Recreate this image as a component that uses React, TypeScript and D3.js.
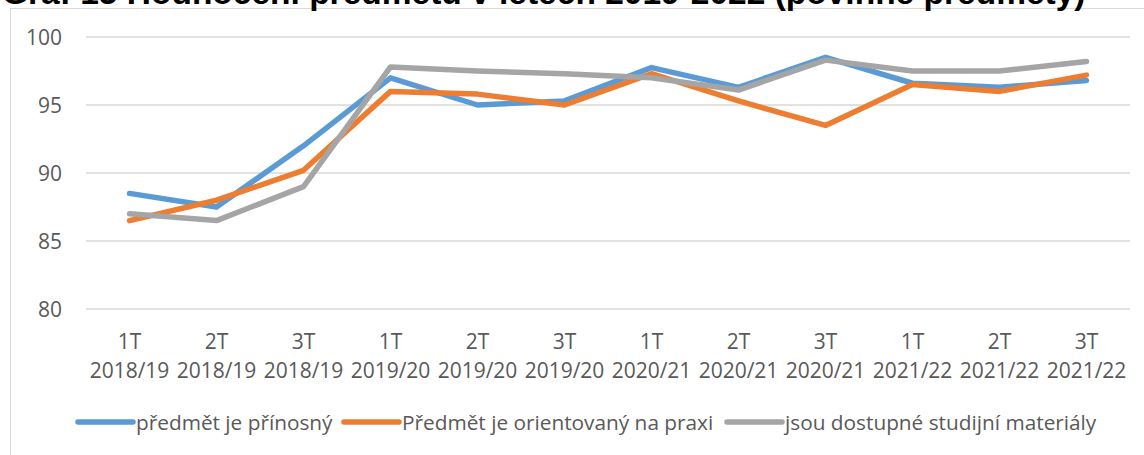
import React from "react";
import * as d3 from "d3";

const terms = ["1T", "2T", "3T", "1T", "2T", "3T", "1T", "2T", "3T", "1T", "2T", "3T"];
const years = ["2018/19", "2018/19", "2018/19", "2019/20", "2019/20", "2019/20", "2020/21", "2020/21", "2020/21", "2021/22", "2021/22", "2021/22"];
const seriesNames = ["předmět je přínosný", "Předmět je orientovaný na praxi", "jsou dostupné studijní materiály"];
const prinosny = [88.5, 87.5, 92.0, 97.0, 95.0, 95.3, 97.75, 96.3, 98.5, 96.6, 96.3, 96.8];
const praxe = [86.5, 88.0, 90.2, 96.0, 95.8, 95.0, 97.3, 95.3, 93.5, 96.5, 96.0, 97.2];
const materialy = [87.0, 86.5, 89.0, 97.8, 97.5, 97.3, 97.0, 96.1, 98.3, 97.5, 97.5, 98.2];
const yTicks = [80, 85, 90, 95, 100];
const title = "Graf 15 Hodnocení předmětu v letech 2019-2022 (povinné předměty)";

const colors = ["#5b9bd5", "#ed7d31", "#a5a5a5"];
const font = "'Open Sans', sans-serif";

export default function App() {
  const W = 1144, H = 455;
  const idx = terms.map((_, i) => String(i));
  const x = d3.scaleBand().domain(idx).range([86, 1130]);
  const y = d3.scaleLinear().domain([80, 100]).range([309, 37]);
  const cx = (i: number) => (x(String(i)) as number) + x.bandwidth() / 2;
  const line = d3.line<number>().x((_, i) => cx(i)).y((v) => y(v));
  const data = [prinosny, praxe, materialy];

  const legendX = [78, 344, 727];

  return (
    <svg width={W} height={H} style={{ position: "absolute", left: 0, top: 0, background: "#fff" }}>
      <rect x={10.5} y={8.5} width={1200} height={500} fill="#fff" stroke="#d9d9d9" strokeWidth={1} />
      <text x={2} y={4} fontFamily="'Liberation Sans', Arial, sans-serif" fontWeight="bold" fontSize={33.5} fill="#000">
        {title}
      </text>
      {yTicks.map((t) => (
        <g key={t}>
          <line x1={86} x2={1130} y1={y(t)} y2={y(t)} stroke="#d9d9d9" strokeWidth={1.5} />
          <text x={62} y={y(t) + 7.5} textAnchor="end" fontFamily={font} fontSize={21} fill="#595959">
            {t}
          </text>
        </g>
      ))}
      {terms.map((t, i) => (
        <g key={i}>
          <text x={cx(i)} y={349} textAnchor="middle" fontFamily={font} fontSize={21} fill="#595959">{t}</text>
          <text x={cx(i)} y={377.5} textAnchor="middle" fontFamily={font} fontSize={21} fill="#595959">{years[i]}</text>
        </g>
      ))}
      {data.map((d, s) => (
        <path key={s} d={line(d) || ""} fill="none" stroke={colors[s]} strokeWidth={5.5} strokeLinecap="round" strokeLinejoin="round" />
      ))}
      {seriesNames.map((n, s) => (
        <g key={n}>
          <line x1={legendX[s]} x2={legendX[s] + 55} y1={422} y2={422} stroke={colors[s]} strokeWidth={5.5} strokeLinecap="round" />
          <text x={legendX[s] + 58} y={429.5} fontFamily={font} fontSize={20.8} fill="#595959">{n}</text>
        </g>
      ))}
    </svg>
  );
}
